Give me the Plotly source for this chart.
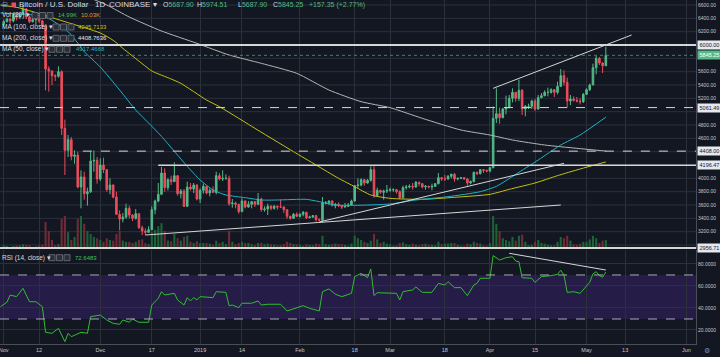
import plotly.graph_objects as go
import pandas as pd

W, H = 720, 357
FONT = "Liberation Sans, Arial, sans-serif"

# ---------------- daily OHLC (BTC/USD, Coinbase, 1D) Nov 1 2018 .. May 7 2019 ----------------
first_day = "2018-11-01"
opens = [
    6310, 6350, 6390, 6360, 6470, 6415, 6465, 6540, 6420, 6350, 6380, 6390, 6360, 6280, 5640,
    5610, 5540, 5530, 5600, 4750, 4420, 4580, 4330, 4350, 3870, 4020, 3770, 3800, 4260, 4270,
    3990, 4200, 4130, 3830, 3900, 3720, 3460, 3390, 3420, 3550, 3450, 3400, 3470, 3260, 3210,
    3190, 3230, 3530, 3660, 3760, 4080, 3860, 3980, 3950, 4040, 3770, 3810, 3580, 3870, 3840, 3900,
    3690, 3820, 3880, 3780, 3820, 3790, 4040, 3990, 4000, 4000, 3620, 3630, 3610, 3500, 3660,
    3570, 3610, 3650, 3610, 3690, 3530, 3540, 3580, 3550, 3580, 3570, 3570, 3530, 3430, 3400, 3460,
    3430, 3460, 3490, 3410, 3420, 3440, 3380, 3370, 3630, 3630, 3660, 3590, 3610, 3590, 3570,
    3580, 3600, 3660, 3890, 3900, 3980, 3930, 3970, 4130, 3740, 3820, 3790, 3810,
    3820, 3830, 3830, 3800, 3710, 3860, 3870, 3880, 3870, 3940, 3920, 3870, 3880, 3870, 3880,
    3920, 4010, 3990, 3990, 4030, 4060, 3990, 4000, 4010, 3990, 3930, 3950, 4090, 4070, 4130, 4120,
    4110, 4160, 4900, 4970, 4910, 5040, 5060, 5200, 5290, 5200, 5320, 5040, 5080, 5080, 5160,
    5040, 5210, 5240, 5290, 5290, 5330, 5290, 5380, 5540, 5440, 5160, 5190, 5170, 5160, 5150,
    5260, 5330, 5400, 5660, 5800, 5730, 5687.90,
]
highs = [
    6380, 6410, 6400, 6490, 6480, 6480, 6600, 6550, 6440, 6400, 6400, 6420, 6380, 6300, 5680,
    5620, 5560, 5680, 5620, 4880, 4650, 4620, 4420, 4400, 4120, 4100, 3860, 4400, 4420, 4320,
    4300, 4310, 4140, 4000, 3910, 3800, 3520, 3480, 3620, 3590, 3460, 3540, 3480, 3290, 3250,
    3280, 3580, 3680, 3930, 4170, 4150, 4000, 4040, 4240, 4040, 3840, 3840, 3950, 3930, 3930, 3910,
    3850, 3920, 3890, 3850, 3880, 4100, 4080, 4120, 4060, 4040, 3690, 3650, 3620, 3700, 3670,
    3660, 3660, 3660, 3780, 3710, 3580, 3620, 3600, 3600, 3590, 3680, 3580, 3530, 3440, 3480, 3490,
    3480, 3510, 3500, 3440, 3450, 3450, 3400, 3720, 3660, 3670, 3670, 3630, 3640, 3600, 3630,
    3630, 3680, 3900, 4000, 4000, 3990, 3990, 4180, 4200, 3860, 3830, 3830, 3900,
    3860, 3850, 3840, 3820, 3890, 3900, 3910, 3930, 3960, 3950, 3930, 3900, 3890, 3920, 3930,
    4080, 4020, 4050, 4050, 4070, 4080, 4010, 4020, 4020, 4000, 3970, 4100, 4100, 4140, 4140, 4130,
    4170, 5080, 5350, 5060, 5060, 5240, 5250, 5350, 5290, 5480, 5340, 5100, 5120, 5180, 5190,
    5250, 5280, 5320, 5360, 5350, 5340, 5450, 5640, 5620, 5510, 5250, 5230, 5220, 5200, 5280,
    5350, 5420, 5720, 5840, 5820, 5740, 5974.51,
]
lows = [
    6270, 6340, 6320, 6340, 6370, 6390, 6450, 6390, 6330, 6340, 6300, 6330, 6240, 5320, 5300,
    5400, 5460, 5510, 4650, 4050, 4320, 4270, 4220, 3850, 3550, 3680, 3590, 3780, 4100, 3920,
    3960, 4080, 3800, 3760, 3700, 3450, 3220, 3340, 3390, 3400, 3360, 3380, 3240, 3150, 3150,
    3180, 3220, 3460, 3640, 3760, 3800, 3820, 3900, 3950, 3740, 3700, 3570, 3570, 3820, 3780, 3670,
    3630, 3770, 3760, 3730, 3780, 3760, 3970, 3960, 3980, 3590, 3560, 3550, 3470, 3500, 3550,
    3560, 3550, 3570, 3600, 3500, 3500, 3450, 3520, 3530, 3530, 3560, 3480, 3390, 3380, 3390, 3420,
    3410, 3430, 3390, 3400, 3410, 3350, 3360, 3350, 3610, 3600, 3580, 3550, 3570, 3540, 3560,
    3580, 3590, 3650, 3850, 3880, 3890, 3920, 3950, 3710, 3730, 3770, 3680, 3780,
    3800, 3800, 3770, 3690, 3700, 3830, 3850, 3830, 3860, 3880, 3850, 3830, 3850, 3820, 3870,
    3910, 3960, 3960, 3980, 4000, 3950, 3970, 3990, 3980, 3890, 3910, 3940, 4050, 4060, 4080, 4090,
    4090, 4150, 4830, 4820, 4900, 4960, 5050, 5140, 5150, 5160, 4950, 4930, 5040, 5040, 5010,
    5030, 5200, 5230, 5230, 5270, 5220, 5260, 5370, 5390, 5060, 5100, 5150, 5140, 5110, 5130,
    5250, 5310, 5400, 5560, 5700, 5580, 5687.90,
]
closes = [
    6350, 6390, 6360, 6470, 6415, 6465, 6540, 6420, 6350, 6380, 6390, 6360, 6280, 5640, 5610,
    5540, 5530, 5600, 4750, 4420, 4580, 4330, 4350, 3870, 4020, 3770, 3800, 4260, 4270, 3990,
    4200, 4130, 3830, 3900, 3720, 3460, 3390, 3420, 3550, 3450, 3400, 3470, 3260, 3210, 3190,
    3230, 3530, 3660, 3760, 4080, 3860, 3980, 3950, 4040, 3770, 3810, 3580, 3870, 3840, 3900, 3690,
    3820, 3880, 3780, 3820, 3790, 4040, 3990, 4000, 4000, 3620, 3630, 3610, 3500, 3660, 3570,
    3610, 3650, 3610, 3690, 3530, 3540, 3580, 3550, 3580, 3570, 3570, 3530, 3430, 3400, 3460, 3430,
    3460, 3490, 3410, 3420, 3440, 3380, 3370, 3630, 3630, 3660, 3590, 3610, 3590, 3570, 3580,
    3600, 3660, 3890, 3900, 3980, 3930, 3970, 4130, 3740, 3820, 3790, 3810, 3820,
    3830, 3830, 3800, 3710, 3860, 3870, 3880, 3870, 3940, 3920, 3870, 3880, 3870, 3880, 3920,
    4010, 3990, 3990, 4030, 4060, 3990, 4000, 4010, 3990, 3930, 3950, 4090, 4070, 4130, 4120, 4110,
    4160, 4900, 4970, 4910, 5040, 5060, 5200, 5290, 5200, 5320, 5040, 5080, 5080, 5160, 5040,
    5210, 5240, 5290, 5290, 5330, 5290, 5380, 5540, 5440, 5160, 5190, 5170, 5160, 5150, 5260,
    5330, 5400, 5660, 5800, 5730, 5687.90, 5845.25,
]
# daily volume, thousands of BTC
volumes_k = [
    6, 5, 3, 5, 6, 6, 8, 7, 6, 3, 4, 6, 7, 45, 30, 15, 6, 8, 50, 55, 28, 15, 20, 50, 55, 42, 30, 25, 20, 18,
    15, 12, 18, 15, 14, 25, 30, 14, 12, 12, 10, 12, 15, 16, 10, 8, 28, 32, 38, 43, 30, 14, 13, 25, 18, 14, 20, 22, 12, 10, 13,
    10, 10, 10, 9, 7, 14, 10, 12, 8, 30, 12, 8, 10, 12, 10, 10, 8, 7, 10, 10, 8, 9, 8, 7, 6, 6, 8, 12, 10, 8, 8,
    7, 5, 8, 7, 6, 9, 8, 22, 8, 7, 8, 9, 8, 8, 7, 5, 9, 22, 18, 15, 12, 10, 14, 25, 16, 10, 12, 9,
    8, 5, 6, 10, 11, 8, 7, 9, 7, 6, 8, 9, 7, 7, 6, 12, 8, 9, 9, 10, 10, 7, 5, 5, 9, 8, 12, 10, 9, 6, 5,
    10, 55, 42, 30, 18, 15, 13, 20, 14, 22, 24, 12, 6, 7, 12, 15, 10, 9, 7, 6, 6, 12, 20, 18, 22, 14, 8, 7, 9, 12,
    12, 16, 22, 18, 10, 14, 15,
]

# ---------------- moving averages ----------------
ma50_dates = ["2018-10-31", "2018-11-14", "2018-11-21", "2018-11-24", "2018-11-26", "2018-12-01",
              "2018-12-07", "2018-12-12", "2018-12-16", "2018-12-20", "2018-12-24", "2018-12-28",
              "2019-01-01", "2019-01-05", "2019-01-09", "2019-01-15", "2019-01-20", "2019-01-25",
              "2019-02-03", "2019-02-07", "2019-02-12", "2019-02-18", "2019-03-01", "2019-03-09",
              "2019-03-19", "2019-03-29", "2019-04-03", "2019-04-09", "2019-04-16", "2019-04-23",
              "2019-04-29", "2019-05-07"]
ma50_values = [6480, 6420, 6200, 6030, 5900, 5670, 5325, 5025, 4830, 4630, 4405, 4180, 3975, 3825,
               3750, 3710, 3675, 3675, 3685, 3650, 3600, 3595, 3615, 3675, 3725, 3800, 3880, 4060,
               4275, 4500, 4650, 4917.47]
ma100_dates = ["2018-10-31", "2018-11-06", "2018-11-20", "2018-12-01", "2018-12-05", "2018-12-08",
               "2018-12-14", "2018-12-17", "2018-12-23", "2018-12-26", "2019-01-03", "2019-01-07",
               "2019-01-13", "2019-01-17", "2019-01-30", "2019-02-06", "2019-02-13", "2019-02-18",
               "2019-02-23", "2019-03-01", "2019-03-11", "2019-03-21", "2019-04-01", "2019-04-07",
               "2019-04-15", "2019-04-22", "2019-04-29", "2019-05-07"]
ma100_values = [6600, 6555, 6350, 6180, 6070, 5950, 5720, 5610, 5490, 5425, 5175, 5075, 4900, 4780,
                4400, 4200, 4000, 3875, 3750, 3700, 3685, 3715, 3760, 3835, 3930, 4040, 4140, 4245.71]
ma200_dates = ["2018-11-24", "2018-12-03", "2018-12-10", "2018-12-20", "2018-12-31", "2019-01-10",
               "2019-01-20", "2019-01-31", "2019-02-10", "2019-02-20", "2019-03-01", "2019-03-11",
               "2019-03-23", "2019-04-01", "2019-04-08", "2019-04-18", "2019-04-28", "2019-05-07"]
ma200_values = [6780, 6600, 6420, 6210, 6025, 5850, 5725, 5575, 5325, 5150, 5060, 4900, 4725, 4650,
                4575, 4500, 4450, 4408.76]

# ---------------- RSI(14) ----------------
rsi_dates = ["2018-10-31", "2018-11-02", "2018-11-03", "2018-11-05", "2018-11-07", "2018-11-09",
             "2018-11-11", "2018-11-13", "2018-11-14", "2018-11-16", "2018-11-18", "2018-11-20",
             "2018-11-21", "2018-11-22", "2018-11-25", "2018-11-27", "2018-11-28", "2018-12-01",
             "2018-12-03", "2018-12-05", "2018-12-07", "2018-12-08", "2018-12-10", "2018-12-11",
             "2018-12-13", "2018-12-16", "2018-12-17", "2018-12-19", "2018-12-20", "2018-12-21",
             "2018-12-24", "2018-12-25", "2018-12-27", "2018-12-28", "2018-12-29", "2018-12-30",
             "2018-12-31", "2019-01-01", "2019-01-05", "2019-01-06", "2019-01-09", "2019-01-10",
             "2019-01-11", "2019-01-13", "2019-01-14", "2019-01-17", "2019-01-19", "2019-01-20",
             "2019-01-22", "2019-01-26", "2019-01-28", "2019-01-30", "2019-02-02", "2019-02-04",
             "2019-02-07", "2019-02-08", "2019-02-09", "2019-02-10", "2019-02-12", "2019-02-14",
             "2019-02-17", "2019-02-18", "2019-02-20", "2019-02-22", "2019-02-23", "2019-02-24",
             "2019-02-25", "2019-02-28", "2019-03-03", "2019-03-04", "2019-03-05", "2019-03-08",
             "2019-03-09", "2019-03-11", "2019-03-14", "2019-03-16", "2019-03-18", "2019-03-19",
             "2019-03-21", "2019-03-23", "2019-03-25", "2019-03-27", "2019-03-28", "2019-03-29",
             "2019-04-01", "2019-04-02", "2019-04-04", "2019-04-06", "2019-04-08", "2019-04-09",
             "2019-04-10", "2019-04-11", "2019-04-14", "2019-04-15", "2019-04-17", "2019-04-20",
             "2019-04-22", "2019-04-23", "2019-04-24", "2019-04-25", "2019-04-27", "2019-04-29",
             "2019-05-01", "2019-05-02", "2019-05-03", "2019-05-04", "2019-05-05", "2019-05-06",
             "2019-05-07"]
rsi_values = [41.2, 45.2, 51.8, 50.3, 57.9, 45.7, 45.7, 41.2, 17.9, 17.0, 21.5, 9.4, 17.0, 13.9,
              17.9, 17.0, 32.1, 33.6, 29.1, 26.0, 25.2, 29.1, 27.0, 30.0, 27.0, 27.0, 42.7, 48.8,
              54.8, 51.8, 53.3, 47.3, 42.7, 49.4, 46.4, 49.4, 47.3, 50.3, 49.4, 54.8, 54.2, 42.1,
              42.7, 40.3, 44.3, 44.3, 46.4, 42.7, 43.4, 43.4, 37.3, 39.1, 42.1, 39.7, 37.3, 54.8,
              56.4, 57.3, 52.5, 50.3, 53.3, 68.5, 71.5, 67.5, 75.5, 51.2, 53.9, 53.3, 53.3, 47.3,
              54.8, 56.4, 59.1, 54.2, 54.2, 62.4, 60.9, 63.9, 58.5, 58.5, 51.2, 60.9, 62.4, 67.0,
              67.0, 87.6, 83.6, 85.7, 86.6, 82.7, 82.1, 67.5, 67.0, 63.3, 68.5, 69.4, 70.6, 74.3,
              70.0, 54.2, 54.8, 53.3, 60.3, 63.3, 71.0, 73.0, 69.4, 68.0, 72.65]

# ---------------- drawings ----------------
hline_levels = [6000.00, 5061.49, 4408.00, 4196.47, 2956.71]
hline_starts = [None, None, "2018-11-25 14:00", "2018-12-19", None]
hline_dash = ["solid", "dash", "dash", "solid", "solid"]
hline_width = [2, 1, 1, 1.4, 2]
last_price = 5845.25
trend_starts = [("2018-12-15", 3150), ("2019-02-07", 3345), ("2019-04-02", 5350)]
trend_ends = [("2019-04-23", 3600), ("2019-04-24", 4225), ("2019-05-15", 6150)]
rsi_trend = [("2019-04-07", 89.7), ("2019-05-07", 74.5)]

# price-scale labels (those hidden under the drawing labels are left out)
price_ticks = [6600, 6400, 6200, 5600, 5400, 5200, 4800, 4600, 4000, 3800, 3600, 3400, 3200]
rsi_ticks = [20, 40, 60, 80]
x_tick_dates = ["2018-11-01", "2018-11-12", "2018-12-01", "2018-12-17", "2019-01-01", "2019-01-14",
                "2019-02-01", "2019-02-18", "2019-03-01", "2019-03-18", "2019-04-01", "2019-04-15",
                "2019-05-01", "2019-05-13", "2019-06-01"]
x_tick_labels = ["Nov", "12", "Dec", "17", "2019", "14", "Feb", "18", "Mar", "18", "Apr", "15",
                 "May", "13", "Jun"]

# ---------------- styling ----------------
BG = "#131722"
GRID = "#2c303b"
TXT = "#c3c6ce"
UP, DOWN = "#53b987", "#eb4d5c"
VOL_UP, VOL_DOWN = "#1d6338", "#6f2b37"
C_MA50, C_MA100, C_MA200 = "#1fb2c6", "#c3c30f", "#b4b4b4"
C_RSI = "#2fbf2f"
DRAW = "#d6d6d6"

dates = pd.date_range(first_day, periods=len(closes), freq="D")

PLOT_R = 696  # px: right edge of the plotting area
PRICE_BOTTOM = 249
RSI_TOP, RSI_BOTTOM = 250, 344
px_per_day = 3.22
x_start = pd.Timestamp(first_day) - pd.Timedelta(days=1.15)
x_end = x_start + pd.Timedelta(days=PLOT_R / px_per_day)
price_range = [2940, 6675]
rsi_range = [7.27, 92.7]

fig = go.Figure()

vol_colors = [VOL_UP if c >= o else VOL_DOWN for o, c in zip(opens, closes)]
fig.add_trace(go.Bar(x=dates, y=volumes_k, marker=dict(color=vol_colors, line=dict(width=0)),
                     xaxis="x", yaxis="y", hoverinfo="skip"))

for d, v, col in [(ma200_dates, ma200_values, C_MA200), (ma100_dates, ma100_values, C_MA100),
                  (ma50_dates, ma50_values, C_MA50)]:
    fig.add_trace(go.Scatter(x=pd.to_datetime(d), y=v, mode="lines", xaxis="x", yaxis="y3",
                             line=dict(color=col, width=1, shape="spline", smoothing=0.6),
                             hoverinfo="skip"))

fig.add_trace(go.Candlestick(
    x=dates, open=opens, high=highs, low=lows, close=closes, xaxis="x", yaxis="y3",
    increasing=dict(line=dict(color=UP, width=1), fillcolor=UP),
    decreasing=dict(line=dict(color=DOWN, width=1), fillcolor=DOWN),
    whiskerwidth=0, hoverinfo="skip"))

fig.add_trace(go.Scatter(x=pd.to_datetime(rsi_dates), y=rsi_values, mode="lines", xaxis="x",
                         yaxis="y2", line=dict(color=C_RSI, width=1), hoverinfo="skip"))

shapes = []
# price grid every 200
for lvl in range(3000, 6700, 200):
    shapes.append(dict(type="line", xref="x domain", yref="y3", x0=0, x1=1, y0=lvl, y1=lvl,
                       line=dict(color=GRID, width=1), layer="below"))
# RSI band and bounds
shapes.append(dict(type="rect", xref="x domain", yref="y2", x0=0, x1=1, y0=30, y1=70,
                   fillcolor="rgba(95,45,195,0.24)", line=dict(width=0), layer="below"))
for lvl in (70, 30):
    shapes.append(dict(type="line", xref="x domain", yref="y2", x0=0, x1=1, y0=lvl, y1=lvl,
                       line=dict(color="#a8aab3", width=1, dash="dash")))
# horizontal price levels
for lvl, st, dash, wd in zip(hline_levels, hline_starts, hline_dash, hline_width):
    if st is None:
        shapes.append(dict(type="line", xref="x domain", yref="y3", x0=0, x1=1, y0=lvl, y1=lvl,
                           line=dict(color=DRAW, width=wd, dash=dash)))
    else:
        shapes.append(dict(type="line", xref="x", yref="y3", x0=st, x1=x_end, y0=lvl, y1=lvl,
                           line=dict(color=DRAW, width=wd, dash=dash)))
shapes.append(dict(type="line", xref="x domain", yref="y3", x0=0, x1=1, y0=last_price, y1=last_price,
                   line=dict(color="#2f8f5f", width=1, dash="dot")))
for (d0, p0), (d1, p1) in zip(trend_starts, trend_ends):
    shapes.append(dict(type="line", xref="x", yref="y3", x0=d0, x1=d1, y0=p0, y1=p1,
                       line=dict(color=DRAW, width=1)))
shapes.append(dict(type="line", xref="x", yref="y2", x0=rsi_trend[0][0], x1=rsi_trend[1][0],
                   y0=rsi_trend[0][1], y1=rsi_trend[1][1], line=dict(color=DRAW, width=1)))


def P(x):
    return x / W


def Q(y):
    return 1 - y / H


# legend icon boxes
def icons(x0, yc):
    out = []
    for i in range(3):
        xl = x0 + i * 7.5
        out.append(dict(type="rect", xref="paper", yref="paper", x0=P(xl), x1=P(xl + 6),
                        y0=Q(yc + 3), y1=Q(yc - 3), fillcolor="#2a2e39",
                        line=dict(color="#70737e", width=0.8)))
    return out


shapes += icons(32, 15.5)
shapes += icons(53, 27)
shapes += icons(53, 38.3)
shapes += icons(49, 49.3)
shapes += icons(49, 257.7)
# red symbol square in the title
shapes.append(dict(type="rect", xref="paper", yref="paper", x0=P(11.5), x1=P(16), y0=Q(7), y1=Q(2.5),
                   fillcolor=DOWN, line=dict(width=0)))

ann = []


def A(x, y, text, color=TXT, size=7, xanchor="left", **kw):
    ann.append(dict(xref="paper", yref="paper", x=P(x), y=Q(y), text=text, showarrow=False,
                    xanchor=xanchor, yanchor="middle", font=dict(color=color, size=size, family=FONT),
                    borderpad=0, **kw))


G = UP
A(1, 4.5, "⊟", "#9598a1", 7)
A(18, 4.8, "Bitcoin / U.S. Dollar", "#d8dbe2", 8)
A(94, 4.8, "1D", "#d8dbe2", 8)
A(108, 4.8, "COINBASE ▾", "#d8dbe2", 8)
A(162, 4.8, f"O<span style='color:{G}'>5687.90</span>", "#d8dbe2", 7)
A(196, 4.8, f"H<span style='color:{G}'>5974.51</span>", "#d8dbe2", 7)
A(237, 4.8, f"L<span style='color:{G}'>5687.90</span>", "#d8dbe2", 7)
A(272, 4.8, f"C<span style='color:{G}'>5845.25</span>", "#d8dbe2", 7)
A(308, 4.8, "+157.35 (+2.77%)", G, 7)

A(0.5, 15.5, "Vol (20) ▾", "#d8dbe2", 6.5)
A(57, 15.5, "14.99K", "#3fc24f", 6)
A(80, 15.5, "10.03K", "#f0962b", 6)
A(0.5, 27, "MA (100, close) ▾", "#d8dbe2", 6.5)
A(77, 27, "4245.7133", C_MA100, 6)
A(0.5, 38.3, "MA (200, close) ▾", "#d8dbe2", 6.5)
A(77, 38.3, "4408.7636", "#e6e6e6", 6)
A(0.5, 49.3, "MA (50, close) ▾", "#d8dbe2", 6.5)
A(75, 49.3, "4917.4668", C_MA50, 6)
A(0.5, 257.7, "RSI (14, close) ▾", "#d8dbe2", 6.5)
A(74, 257.7, "72.6483", "#3fc24f", 6)
A(707, 350, "⚙", "#8a8d96", 7, xanchor="center")

# right-axis price labels for drawings
for lvl in hline_levels:
    ann.append(dict(xref="paper", yref="y3", x=P(PLOT_R + 0.5), y=lvl, text=f"{lvl:.2f}",
                    showarrow=False, xanchor="left", yanchor="middle", width=23, height=8,
                    bgcolor="#e6e8ee", borderpad=0, align="center",
                    font=dict(color="#131722", size=5.5, family=FONT)))
ann.append(dict(xref="paper", yref="y3", x=P(PLOT_R + 0.5), y=last_price, text=f"{last_price:.2f}",
                showarrow=False, xanchor="left", yanchor="middle", width=23, height=8,
                bgcolor=UP, borderpad=0, align="center",
                font=dict(color="#ffffff", size=5.5, family=FONT)))

fig.update_layout(
    width=W, height=H, margin=dict(l=0, r=0, t=0, b=0),
    paper_bgcolor=BG, plot_bgcolor=BG, showlegend=False, bargap=0.35,
    font=dict(family=FONT, color=TXT, size=5),
    xaxis=dict(domain=[0, PLOT_R / W], anchor="y2", type="date",
               range=[x_start, x_end], tickmode="array", tickvals=x_tick_dates,
               ticktext=x_tick_labels, tickfont=dict(size=5.5, color=TXT), showgrid=True,
               gridcolor=GRID, gridwidth=1, showline=True, linecolor="#4a4e59", ticks="",
               ticklabeloverflow="allow", zeroline=False, rangeslider=dict(visible=False)),
    yaxis=dict(domain=[Q(PRICE_BOTTOM), 1], range=[0, 415], visible=False, showgrid=False,
               fixedrange=True),
    yaxis3=dict(overlaying="y", anchor="x", side="right", range=price_range,
                tickmode="array", tickvals=price_ticks,
                tickformat=".2f", tickfont=dict(size=5, color=TXT), showgrid=False,
                showline=True, linecolor="#4a4e59", ticks="", zeroline=False),
    yaxis2=dict(domain=[Q(RSI_BOTTOM), Q(RSI_TOP)], anchor="x", side="right", range=rsi_range,
                tickmode="array", tickvals=rsi_ticks, tickformat=".4f",
                tickfont=dict(size=5, color=TXT), showgrid=True, gridcolor=GRID,
                showline=True, linecolor="#4a4e59", ticks="", zeroline=False),
    shapes=shapes, annotations=ann,
)

fig.write_html(
    "out.html",
    config={"displayModeBar": False},
    post_script="document.body.style.margin='0';document.body.style.background='#131722';",
)
